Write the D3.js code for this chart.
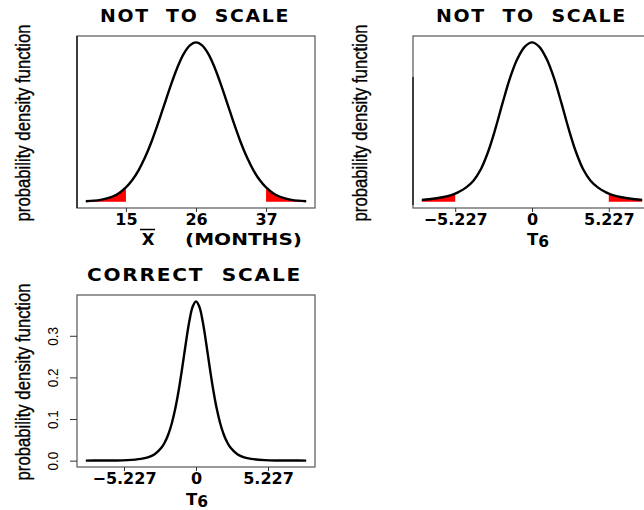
<!DOCTYPE html>
<html>
<head>
<meta charset="utf-8">
<script src="https://d3js.org/d3.v7.min.js"></script>
<style>
  body { margin: 0; background: #fff; }
  svg { display: block; }
</style>
</head>
<body>
<script>
// ---- data ----
// panel 1: sampling distribution of the mean (months), not to scale
const monthX = [8.7, 10, 11, 12, 13, 14, 15, 16, 17, 18, 19, 20, 21, 22, 23, 24, 25, 26,
                27, 28, 29, 30, 31, 32, 33, 34, 35, 36, 37, 38, 39, 40, 41, 42, 43.3];
const monthDensity = [0.0002, 0.0005, 0.0009, 0.0016, 0.0027, 0.0045, 0.0071, 0.0108, 0.0158,
                      0.0222, 0.0299, 0.0388, 0.0484, 0.0579, 0.0666, 0.0737, 0.0782, 0.0798,
                      0.0782, 0.0737, 0.0666, 0.0579, 0.0484, 0.0388, 0.0299, 0.0222, 0.0158,
                      0.0108, 0.0071, 0.0045, 0.0027, 0.0016, 0.0009, 0.0005, 0.0002];
const monthTicks = [15, 26, 37];
const monthCut = [15, 37];

// panel 2: T6, not to scale (relative height)
const t2X = [-7.5, -7, -6.5, -6, -5.5, -5.227, -5, -4.5, -4, -3.5, -3, -2.5, -2, -1.5, -1, -0.5, 0,
             0.5, 1, 1.5, 2, 2.5, 3, 3.5, 4, 4.5, 5, 5.227, 5.5, 6, 6.5, 7, 7.5];
const t2Density = [0.011, 0.015, 0.021, 0.029, 0.041, 0.050, 0.060, 0.088, 0.13, 0.20, 0.31,
                   0.455, 0.62, 0.775, 0.895, 0.972, 1.0,
                   0.972, 0.895, 0.775, 0.62, 0.455, 0.31, 0.20, 0.13, 0.088, 0.060, 0.050,
                   0.041, 0.029, 0.021, 0.015, 0.011];

// panel 3: T6 at correct scale
const t3X = [-8, -7, -6, -5, -4, -3.5, -3, -2.5, -2.25, -2, -1.75, -1.5, -1.25, -1, -0.75, -0.5, -0.25, 0,
             0.25, 0.5, 0.75, 1, 1.25, 1.5, 1.75, 2, 2.25, 2.5, 3, 3.5, 4, 5, 6, 7, 8];
const t3Density = [0.0001, 0.0002, 0.0004, 0.0012, 0.0041, 0.0078, 0.0155, 0.0315, 0.0450, 0.0640,
                   0.0904, 0.1256, 0.1702, 0.2231, 0.2797, 0.3318, 0.3691, 0.3827,
                   0.3691, 0.3318, 0.2797, 0.2231, 0.1702, 0.1256, 0.0904, 0.0640, 0.0450,
                   0.0315, 0.0155, 0.0078, 0.0041, 0.0012, 0.0004, 0.0002, 0.0001];
const tTicks = [-5.227, 0, 5.227];
const tTickLabels = ["\u22125.227", "0", "5.227"];
const tCut = [-5.227, 5.227];
const densityTicks = [0.0, 0.1, 0.2, 0.3];

const width = 644, height = 510;
const boldFont = "'DejaVu Sans', sans-serif";
const plainFont = "'Liberation Sans', Arial, sans-serif";

const svg = d3.select("body").append("svg")
  .attr("width", width)
  .attr("height", height);

// R style padding of 4% on each side
function padded(lo, hi) {
  const r = hi - lo;
  return [lo - 0.04 * r, hi + 0.04 * r];
}

function drawPanel(p) {
  const x = d3.scaleLinear().domain(padded(d3.min(p.xs), d3.max(p.xs))).range([p.left, p.right]);
  const y = d3.scaleLinear().domain(padded(0, d3.max(p.ys))).range([p.bottom, p.top]);
  const pts = d3.zip(p.xs, p.ys);

  // red tails
  if (p.cut) {
    const area = d3.area()
      .x(d => x(d[0]))
      .y0(y(0))
      .y1(d => y(d[1]))
      .curve(d3.curveMonotoneX);
    svg.append("path").datum(pts.filter(d => d[0] <= p.cut[0]))
      .attr("d", area).attr("fill", "#ff0000");
    svg.append("path").datum(pts.filter(d => d[0] >= p.cut[1]))
      .attr("d", area).attr("fill", "#ff0000");
  }

  // density curve
  const line = d3.line()
    .x(d => x(d[0]))
    .y(d => y(d[1]))
    .curve(d3.curveCatmullRom);
  svg.append("path").datum(pts)
    .attr("d", line)
    .attr("fill", "none")
    .attr("stroke", "black")
    .attr("stroke-width", 2.4);

  // box
  svg.append("rect")
    .attr("x", p.left).attr("y", p.top)
    .attr("width", p.right - p.left).attr("height", p.bottom - p.top)
    .attr("fill", "none")
    .attr("stroke", "#555")
    .attr("stroke-width", 1.2);

  // x axis
  const xAxis = svg.append("g")
    .attr("transform", `translate(0,${p.bottom})`)
    .call(d3.axisBottom(x)
      .tickValues(p.ticks)
      .tickSize(4)
      .tickPadding(2)
      .tickFormat((d, i) => p.tickLabels[i]));
  xAxis.select(".domain").remove();
  xAxis.selectAll("line").attr("stroke", "#333");
  xAxis.selectAll("text")
    .attr("font-family", boldFont)
    .attr("font-weight", "bold")
    .attr("font-size", 16)
    .attr("fill", "black");

  // title
  svg.append("text")
    .attr("x", p.titleX).attr("y", p.titleY)
    .attr("text-anchor", "middle")
    .attr("font-family", boldFont)
    .attr("font-weight", "bold")
    .attr("font-size", 17)
    .attr("letter-spacing", 1.5)
    .style("white-space", "pre")
    .attr("textLength", p.titleLen)
    .attr("lengthAdjust", "spacingAndGlyphs")
    .text(p.title);

  // y label (condensed look: taller glyphs, same length)
  svg.append("text")
    .attr("transform", `translate(${p.ylabX},${(p.top + p.bottom) / 2 + 1}) rotate(-90) scale(1,1.2)`)
    .attr("text-anchor", "middle")
    .attr("font-family", plainFont)
    .attr("font-size", 17)
    .attr("stroke", "black")
    .attr("stroke-width", 0.3)
    .attr("textLength", 197)
    .attr("lengthAdjust", "spacingAndGlyphs")
    .text("probability density function");

  return {x, y};
}

// panel 1
drawPanel({
  left: 77, right: 315, top: 36, bottom: 208,
  xs: monthX, ys: monthDensity, cut: monthCut,
  ticks: monthTicks, tickLabels: monthTicks.map(String),
  title: "NOT  TO  SCALE", titleX: 195, titleY: 22, titleLen: 190, ylabX: 30
});
svg.append("line").attr("x1", 77).attr("x2", 77).attr("y1", 36).attr("y2", 208)
  .attr("stroke", "black").attr("stroke-width", 1.2);

// x label: X-bar (MONTHS)
svg.append("text")
  .attr("x", 148).attr("y", 245)
  .attr("text-anchor", "middle")
  .attr("font-family", boldFont).attr("font-weight", "bold").attr("font-size", 16.5)
  .text("X");
svg.append("line").attr("x1", 140).attr("x2", 155).attr("y1", 229.5).attr("y2", 229.5)
  .attr("stroke", "black").attr("stroke-width", 1.5);
svg.append("text")
  .attr("x", 185).attr("y", 245)
  .attr("font-family", boldFont).attr("font-weight", "bold").attr("font-size", 16.5)
  .attr("textLength", 117).attr("lengthAdjust", "spacingAndGlyphs")
  .text("(MONTHS)");

// panel 2
drawPanel({
  left: 413, right: 651, top: 36, bottom: 208,
  xs: t2X, ys: t2Density, cut: tCut,
  ticks: tTicks, tickLabels: tTickLabels,
  title: "NOT  TO  SCALE", titleX: 531.5, titleY: 22, titleLen: 191, ylabX: 367
});
svg.append("line").attr("x1", 413).attr("x2", 413).attr("y1", 77).attr("y2", 205)
  .attr("stroke", "black").attr("stroke-width", 1.2);

// panel 3
const p3 = drawPanel({
  left: 77, right: 315, top: 295, bottom: 467,
  xs: t3X, ys: t3Density, cut: null,
  ticks: tTicks, tickLabels: tTickLabels,
  title: "CORRECT  SCALE", titleX: 194.5, titleY: 281, titleLen: 215, ylabX: 30
});
const yAxis = svg.append("g")
  .attr("transform", "translate(77,0)")
  .call(d3.axisLeft(p3.y)
    .tickValues(densityTicks)
    .tickSize(7)
    .tickFormat(d3.format(".1f")));
yAxis.select(".domain").remove();
yAxis.selectAll("line").attr("stroke", "#333");
yAxis.selectAll("text")
  .attr("x", null).attr("dy", null)
  .attr("transform", "translate(-18.7,0) rotate(-90) scale(1,1.15)")
  .attr("text-anchor", "middle")
  .attr("font-family", plainFont)
  .attr("font-size", 13.5)
  .attr("fill", "black");

// T6 axis titles
function tLabel(cx, baseY) {
  const t = svg.append("text")
    .attr("x", cx).attr("y", baseY)
    .attr("text-anchor", "middle")
    .attr("font-family", boldFont).attr("font-weight", "bold").attr("font-size", 16.5);
  t.append("tspan").text("T");
  t.append("tspan").attr("font-size", 15.5).attr("dy", 2).text("6");
}
tLabel(538, 245);
tLabel(197, 505);
</script>
</body>
</html>
